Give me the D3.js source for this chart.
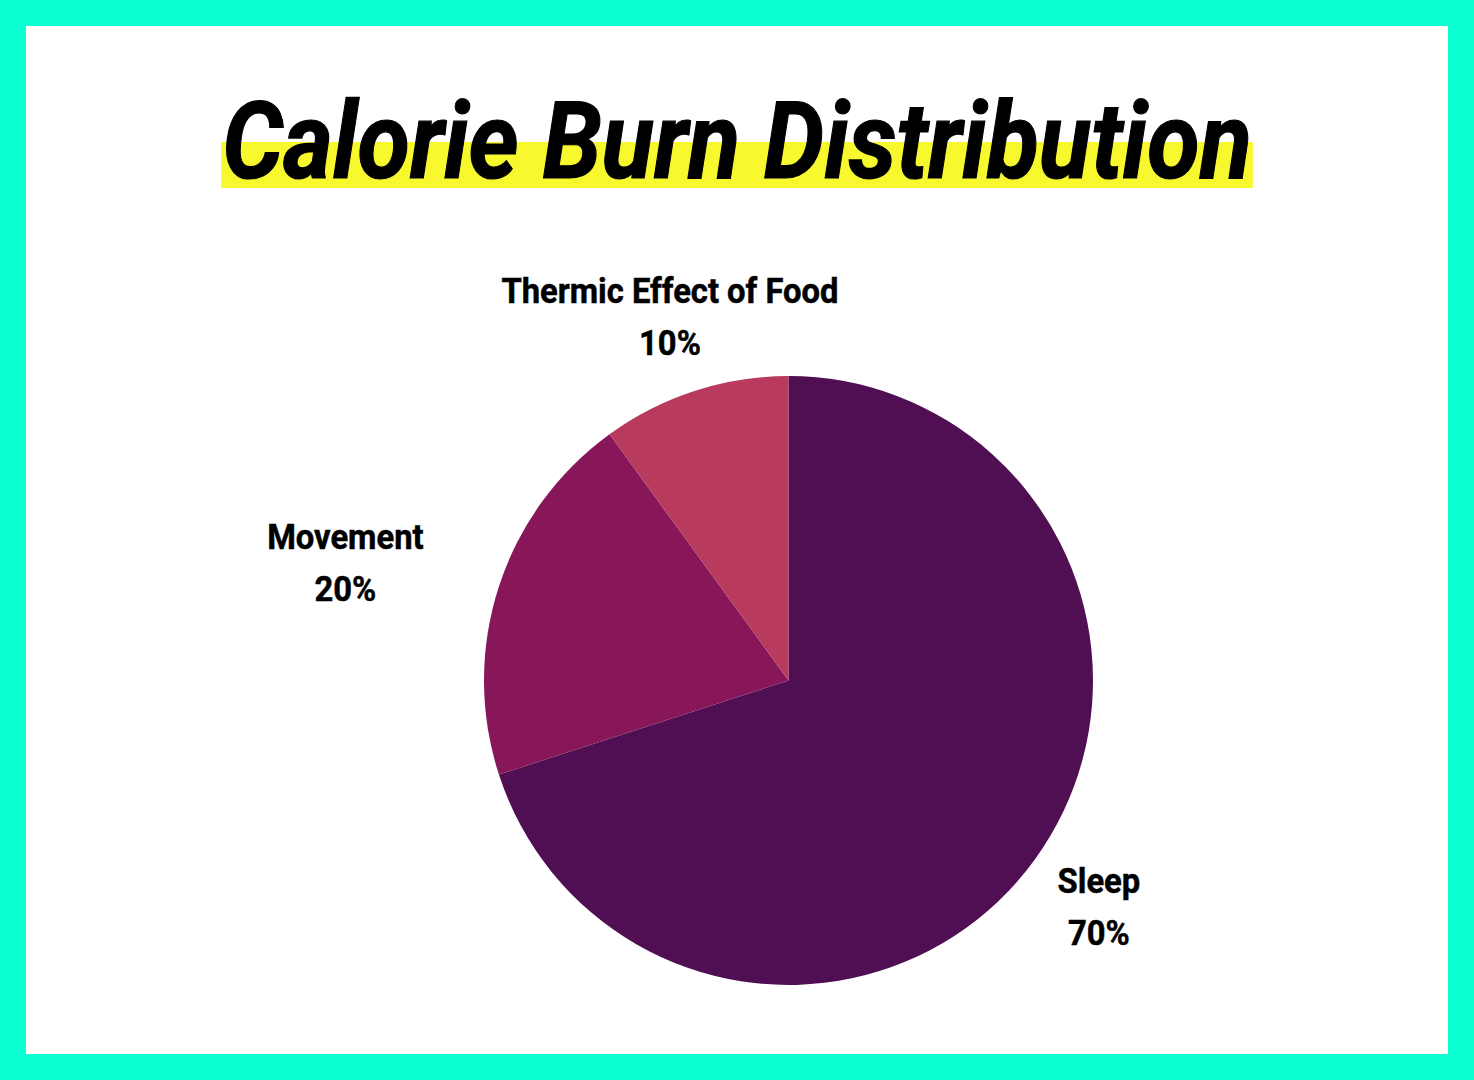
<!DOCTYPE html>
<html><head><meta charset="utf-8">
<script src="https://cdn.jsdelivr.net/npm/d3@7"></script>
<style>html,body{margin:0;padding:0;background:#fff;}svg{display:block;}</style>
</head><body>
<svg id="chart" width="1474" height="1080"></svg>
<script>
const categories = ["Sleep", "Movement", "Thermic Effect of Food"];
const values = [70, 20, 10];
const pctLabels = ["70%", "20%", "10%"];
const colors = ["#4f0f52", "#88175a", "#b83b5e"];
const title = "Calorie Burn Distribution";

const W = 1474, H = 1080, border = 26;
const svg = d3.select("#chart");
svg.append("rect").attr("x",0).attr("y",0).attr("width",W).attr("height",H).attr("fill","#0cffd2");
svg.append("rect").attr("x",border).attr("y",border).attr("width",W-2*border).attr("height",H-2*border).attr("fill","#ffffff");

// Title with highlight
const titleG = svg.append("g");
const hl = titleG.append("rect").attr("fill","#f7f92e");
const tText = titleG.append("text")
  .attr("font-family","Roboto, sans-serif").attr("font-weight",700).attr("font-style","italic")
  .attr("font-size",108).attr("text-anchor","middle").attr("fill","#000")
  .attr("stroke","#000").attr("stroke-width",1.2)
  .text(title);
const tx = W/2, ty = 178, tScale = 0.888;
tText.attr("transform",`translate(${tx},${ty}) scale(${tScale},1)`);
const tw = tText.node().getComputedTextLength()*tScale;
hl.attr("x", tx - tw/2 - 1).attr("y", 142).attr("width", tw + 2).attr("height", 46);

// Pie
const cx = 788.5, cy = 680.5, r = 304.5;
const data = categories.map((c,i)=>({name:c, value:values[i], pct:pctLabels[i], color:colors[i]}));
const pie = d3.pie().value(d=>d.value).sort(null);
const arc = d3.arc().innerRadius(0).outerRadius(r);
const arcs = pie(data);
const g = svg.append("g").attr("transform",`translate(${cx},${cy})`);
g.selectAll("path").data(arcs).join("path")
  .attr("d",arc).attr("fill",d=>d.data.color);

// Labels
const labelR = r*1.26;
const lblScale = 0.91;
arcs.forEach(a=>{
  const mid = (a.startAngle+a.endAngle)/2;
  const sx = Math.sin(mid), sy = -Math.cos(mid);
  const lg = g.append("g");
  const t = lg.append("text")
    .attr("font-family","Roboto, sans-serif").attr("font-weight",700)
    .attr("font-size",36).attr("text-anchor","middle").attr("fill","#000")
    .attr("stroke","#000").attr("stroke-width",0.5)
    .attr("transform",`scale(${lblScale},1)`);
  t.append("tspan").attr("x",0).attr("y",-13).text(a.data.name);
  t.append("tspan").attr("x",0).attr("y",39).text(a.data.pct);
  const bw = t.node().getBBox().width*lblScale;
  let x = labelR*sx, y = labelR*sy;
  if (Math.abs(sx) > 0.9) x += Math.sign(sx)*bw/2;
  lg.attr("transform",`translate(${x},${y})`);
});
</script>
</body></html>
